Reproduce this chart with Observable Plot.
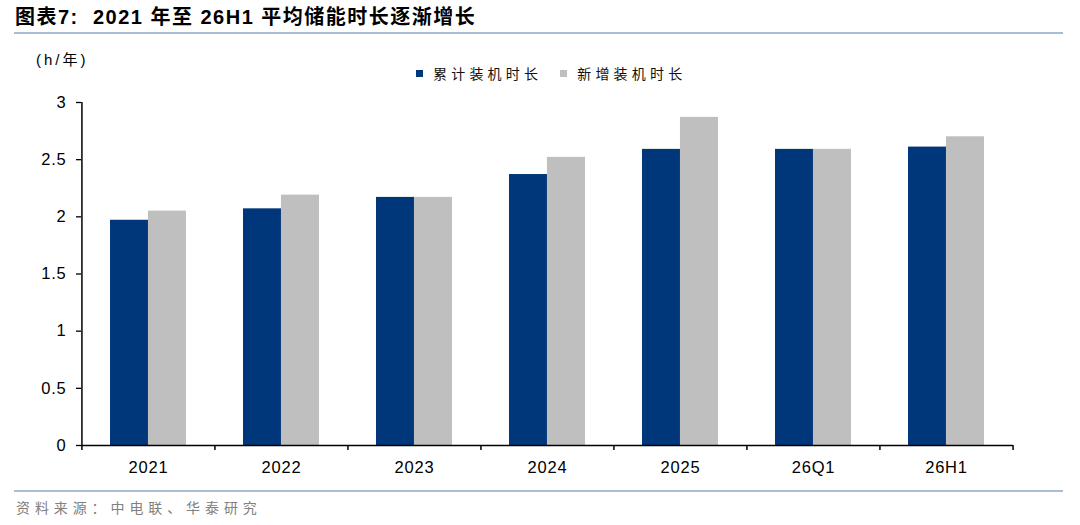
<!DOCTYPE html>
<html>
<head>
<meta charset="utf-8">
<script src="https://cdn.jsdelivr.net/npm/d3@7"></script>
<script src="https://cdn.jsdelivr.net/npm/@observablehq/plot@0.6"></script>
<style>
  body { margin: 0; background: #fff; font-family: "Liberation Sans", Arial, "Noto Sans CJK SC", sans-serif; }
  #wrap { position: relative; width: 1080px; height: 525px; overflow: hidden; background: #fff; }
  #title { position: absolute; left: 15px; top: 5px; font-size: 20px; font-weight: bold; color: #000; white-space: pre; line-height: 24px; letter-spacing: 1.5px; }
  .rule { position: absolute; left: 14px; width: 1049px; height: 2px; background: #a9bbd5; }
  #chart { position: absolute; left: 0; top: 36px; }
  #unit { position: absolute; left: 36px; top: 48px; font-size: 15px; color: #000; white-space: pre; letter-spacing: 3px; }
  #legend { position: absolute; left: 416px; top: 63px; display: flex; align-items: center; font-size: 14px; letter-spacing: 4.2px; color: #111; font-family: "Noto Sans CJK SC", sans-serif; }
  .item { display: flex; align-items: center; margin-right: 18px; }
  .sw { width: 7px; height: 7px; margin-right: 10px; }
  #source { position: absolute; left: 16px; top: 497px; font-size: 14px; letter-spacing: 4.9px; color: #808080; font-family: "Noto Sans CJK SC", sans-serif; white-space: pre; }
  #chart svg text { letter-spacing: 0.8px; }
</style>
</head>
<body>
<div id="wrap">
  <div id="title"></div>
  <div class="rule" style="top:32px"></div>
  <div id="chart"></div>
  <div id="unit"></div>
  <div id="legend"></div>
  <div class="rule" style="top:490px"></div>
  <div id="source"></div>
</div>
<script>
const titleText = "图表7:  2021 年至 26H1 平均储能时长逐渐增长";
const unitText = "(h/年)";
const sourceText = "资料来源：中电联、华泰研究";
const categories = ["2021", "2022", "2023", "2024", "2025", "26Q1", "26H1"];
const seriesNames = ["累计装机时长", "新增装机时长"];
const cumulative = [1.97, 2.07, 2.17, 2.37, 2.59, 2.59, 2.61];
const added = [2.05, 2.19, 2.17, 2.52, 2.87, 2.59, 2.70];
const yTicks = [0, 0.5, 1, 1.5, 2, 2.5, 3];
const colors = ["#00377a", "#bfbfbf"];

document.getElementById("title").textContent = titleText;
document.getElementById("unit").textContent = unitText;
document.getElementById("source").textContent = sourceText;

const rows = [];
categories.forEach((c, i) => {
  rows.push({category: c, series: seriesNames[0], value: cumulative[i]});
  rows.push({category: c, series: seriesNames[1], value: added[i]});
});

const W = 1080, H = 455, mL = 81, mR = 67, mT = 66, mB = 46;
const pInner = 0.43;
const step = (W - mL - mR) / categories.length;
const bw = step * (1 - pInner);

const chart = Plot.plot({
  width: W,
  height: H,
  marginLeft: mL,
  marginRight: mR,
  marginTop: mT,
  marginBottom: mB,
  style: {fontFamily: '"Liberation Sans", Arial, sans-serif', color: "#000", background: "#fff", fontSize: "16px"},
  x: {type: "band", domain: categories, paddingInner: pInner, paddingOuter: pInner / 2, label: null},
  y: {domain: [yTicks[0], yTicks[yTicks.length - 1]], label: null},
  color: {domain: seriesNames, range: colors},
  marks: [
    Plot.barY(rows.filter(d => d.series === seriesNames[0]), {x: "category", y: "value", fill: "series", insetRight: bw / 2}),
    Plot.barY(rows.filter(d => d.series === seriesNames[1]), {x: "category", y: "value", fill: "series", insetLeft: bw / 2}),
    Plot.axisY({ticks: yTicks, tickSize: 5, tickPadding: 10, tickFormat: d => String(d), fontSize: 16.5, strokeWidth: 1.3, label: null}),
    Plot.ruleX([categories[0]], {x: d => d, y1: () => yTicks[0], y2: () => yTicks[yTicks.length - 1], dx: -step / 2, stroke: "#000", strokeWidth: 1.5}),
    Plot.ruleY([yTicks[0]], {stroke: "#000", strokeWidth: 1.5}),
    Plot.axisX({ticks: categories, tickSize: 5, tickFormat: () => "", dx: -step / 2, strokeWidth: 1.5, label: null}),
    Plot.axisX({ticks: [categories[categories.length - 1]], tickSize: 5, tickFormat: () => "", dx: step / 2, strokeWidth: 1.5, label: null}),
    Plot.axisX({ticks: categories, tickSize: 0, tickPadding: 16, fontSize: 16.5, label: null})
  ]
});
document.getElementById("chart").appendChild(chart);

const legend = document.getElementById("legend");
seriesNames.forEach((s, i) => {
  const item = document.createElement("div");
  item.className = "item";
  const sw = document.createElement("span");
  sw.className = "sw";
  sw.style.background = colors[i];
  const t = document.createElement("span");
  t.textContent = s;
  item.appendChild(sw);
  item.appendChild(t);
  legend.appendChild(item);
});
</script>
</body>
</html>
